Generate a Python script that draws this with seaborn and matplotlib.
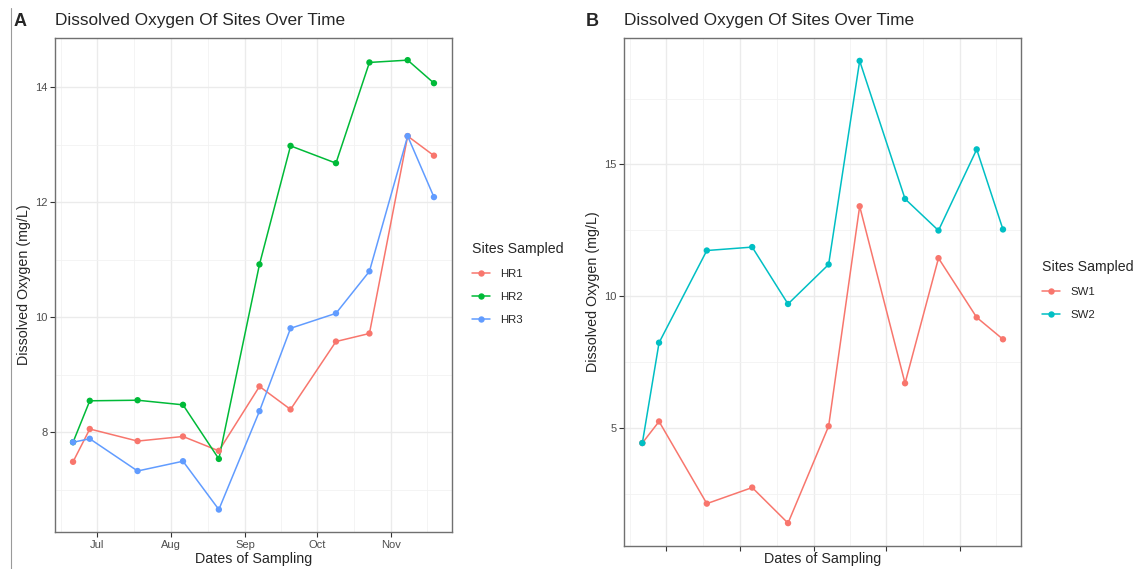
import numpy as np
import pandas as pd
import matplotlib
matplotlib.use("Agg")
import matplotlib.pyplot as plt
import matplotlib.dates as mdates
from matplotlib.lines import Line2D
import seaborn as sns

# ---------------- data ----------------
dates = ["2021-06-21", "2021-06-28", "2021-07-18", "2021-08-06", "2021-08-21",
         "2021-09-07", "2021-09-20", "2021-10-09", "2021-10-23", "2021-11-08",
         "2021-11-19"]

hr1 = [7.49, 8.06, 7.85, 7.93, 7.68, 8.80, 8.40, 9.58, 9.72, 13.15, 12.81]
hr2 = [7.83, 8.55, 8.56, 8.48, 7.54, 10.92, 12.98, 12.68, 14.43, 14.47, 14.07]
hr3 = [7.83, 7.89, 7.33, 7.50, 6.66, 8.37, 9.81, 10.07, 10.80, 13.15, 12.09]

sw1 = [4.42, 5.24, 2.12, 2.73, 1.38, 5.06, 13.41, 6.69, 11.44, 9.19, 8.36]
sw2 = [4.42, 8.23, 11.73, 11.86, 9.70, 11.20, 18.93, 13.69, 12.49, 15.57, 12.53]

sites_a = ["HR1", "HR2", "HR3"]
sites_b = ["SW1", "SW2"]
month_ticks = ["2021-07-01", "2021-08-01", "2021-09-01", "2021-10-01", "2021-11-01"]
month_labels_a = ["Jul", "Aug", "Sep", "Oct", "Nov"]
month_labels_b = ["", "", "", "", ""]

title_text = "Dissolved Oxygen Of Sites Over Time"
xlab = "Dates of Sampling"
ylab = "Dissolved Oxygen (mg/L)"
legend_title = "Sites Sampled"

pal_a = ["#F8766D", "#00BA38", "#619CFF"]
pal_b = ["#F8766D", "#00BFC4"]

# ---------------- build frames ----------------
d = pd.to_datetime(dates)
df_a = pd.DataFrame({
    "date": np.tile(d, 3),
    "DO": hr1 + hr2 + hr3,
    "site": np.repeat(sites_a, len(dates)),
})
df_b = pd.DataFrame({
    "date": np.tile(d, 2),
    "DO": sw1 + sw2,
    "site": np.repeat(sites_b, len(dates)),
})

sns.set_theme(style="white")
plt.rcParams["font.family"] = ["Liberation Sans", "DejaVu Sans"]

W, H = 1137, 569
fig = plt.figure(figsize=(W / 100, H / 100), dpi=100)


def fx(px):
    return px / W


def fy(py):
    return 1 - py / H


ax_a = fig.add_axes([fx(55), fy(532), fx(452) - fx(55), fy(37.7) - fy(532)])
ax_b = fig.add_axes([fx(624.3), fy(546.3), fx(1021) - fx(624.3), fy(37.7) - fy(546.3)])

grid_major = "#EBEBEB"
border = "#707070"
tick_col = "#333333"
tick_lab = "#4D4D4D"


def style_axis(ax, df, palette, order, ylim, yticks, yminor, xlabels):
    sns.lineplot(data=df, x="date", y="DO", hue="site", hue_order=order,
                 palette=palette, ax=ax, legend=False, linewidth=1.1,
                 zorder=3)
    sns.scatterplot(data=df, x="date", y="DO", hue="site", hue_order=order,
                    palette=palette, ax=ax, legend=False, s=21,
                    linewidth=0, zorder=4)
    dmin, dmax = df["date"].min(), df["date"].max()
    span = dmax - dmin
    ax.set_xlim(dmin - span * 0.05, dmax + span * 0.05)
    ax.set_ylim(*ylim)
    tick_dates = pd.to_datetime(month_ticks)
    tnum = mdates.date2num(tick_dates)
    ax.set_xticks(tnum)
    ax.set_xticklabels(xlabels)
    # minor: midpoints between monthly majors (incl. outside)
    ext = np.concatenate([[mdates.date2num(pd.Timestamp("2021-06-01"))], tnum,
                          [mdates.date2num(pd.Timestamp("2021-12-01"))]])
    ax.set_xticks((ext[:-1] + ext[1:]) / 2, minor=True)
    ax.set_yticks(yticks)
    ax.set_yticks(yminor, minor=True)
    ax.grid(True, which="major", color=grid_major, linewidth=1.0, zorder=0)
    ax.grid(True, which="minor", color="#F2F2F2", linewidth=0.6, zorder=0)
    ax.set_axisbelow(True)
    for sp in ax.spines.values():
        sp.set_color(border)
        sp.set_linewidth(1.0)
        sp.set_visible(True)
    ax.tick_params(axis="both", which="major", length=3.5, width=0.8,
                   color=tick_col, labelcolor=tick_lab, labelsize=8, pad=2,
                   bottom=True, left=True)
    ax.tick_params(axis="both", which="minor", length=0)
    ax.set_xlabel("")
    ax.set_ylabel("")


style_axis(ax_a, df_a, pal_a, sites_a, (6.27, 14.86), [8, 10, 12, 14],
           [7, 9, 11, 13], month_labels_a)
style_axis(ax_b, df_b, pal_b, sites_b, (0.50, 19.81), [5, 10, 15],
           [2.5, 7.5, 12.5, 17.5], month_labels_b)

# titles / panel labels
fig.text(fx(55), fy(21), title_text, fontsize=12.4, ha="left", va="center")
fig.text(fx(624.3), fy(21), title_text, fontsize=12.4, ha="left", va="center")
fig.text(fx(20), fy(21), "A", fontsize=13, fontweight="bold", ha="center", va="center")
fig.text(fx(592), fy(21), "B", fontsize=13, fontweight="bold", ha="center", va="center")

# axis labels
fig.text(fx(253.5), fy(559.5), xlab, fontsize=10.3, ha="center", va="center")
fig.text(fx(822.7), fy(559.5), xlab, fontsize=10.3, ha="center", va="center")
fig.text(fx(24), fy((37.7 + 532) / 2), ylab, fontsize=10.3, rotation=90,
         ha="center", va="center")
fig.text(fx(593), fy((37.7 + 546.3) / 2), ylab, fontsize=10.3, rotation=90,
         ha="center", va="center")


def make_legend(labels, palette, x, y):
    handles = [Line2D([0], [0], color=c, lw=1.1, marker="o", markersize=4.6,
                      markeredgewidth=0) for c in palette]
    leg = fig.legend(handles, labels, title=legend_title, loc="upper left",
                     bbox_to_anchor=(fx(x), fy(y)), frameon=False,
                     fontsize=8.2, title_fontsize=10.2, handlelength=1.6,
                     handletextpad=0.9, labelspacing=1.17, borderpad=0,
                     borderaxespad=0, alignment="left")
    leg._legend_box.sep = 9.2
    return leg


make_legend(sites_a, pal_a, 472, 242)
make_legend(sites_b, pal_b, 1042, 260)

# screenshot edge line at far left
fig.add_artist(Line2D([fx(10.5), fx(10.5)], [fy(8), fy(569)], color="#9A9A9A",
                      lw=0.8, transform=fig.transFigure))

fig.savefig("out.png", dpi=100)
